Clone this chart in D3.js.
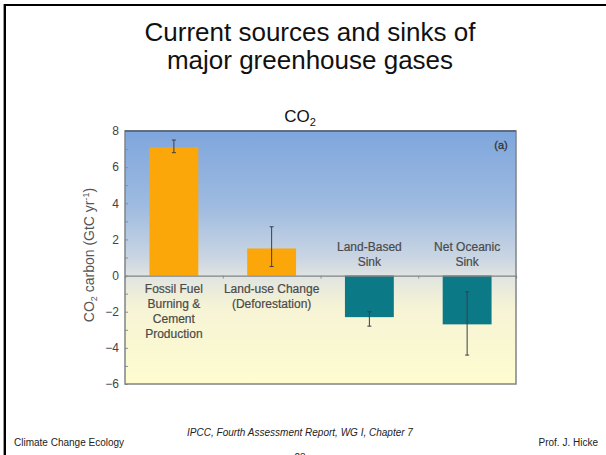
<!DOCTYPE html>
<html>
<head>
<meta charset="utf-8">
<script src="https://cdn.jsdelivr.net/npm/d3@7"></script>
<style>
  body { margin: 0; background: #fff; }
  svg { display: block; font-family: Arial, "Liberation Sans", sans-serif; }
</style>
</head>
<body>
<div class="chart"></div>
<script>
// chart values
const categories = ["fossil", "landuse", "landsink", "ocean"];
const catLabels = [
    ["Fossil Fuel", "Burning &", "Cement", "Production"],
    ["Land-use Change", "(Deforestation)"],
    ["Land-Based", "Sink"],
    ["Net Oceanic", "Sink"]
];
const values = [7.1, 1.5, -2.3, -2.7];
const errLow = [6.8, 0.5, -2.0, -0.9];
const errHigh = [7.5, 2.7, -2.8, -4.4];
const yTicks = [-6, -4, -2, 0, 2, 4, 6, 8];

const W = 606, H = 455;
let margin = {top: 131, right: 90, bottom: 71, left: 125},
    width = 516 - margin.left,
    height = 384 - margin.top;

let svg = d3.select(".chart").append("svg")
    .attr("width", W)
    .attr("height", H);

// slide frame (top and left edges only)
svg.append("rect").attr("x", 3).attr("y", 4).attr("width", 1).attr("height", H).attr("fill", "#999");
svg.append("rect").attr("x", 4).attr("y", 4).attr("width", 2).attr("height", H).attr("fill", "#000");
svg.append("rect").attr("x", 4).attr("y", 4).attr("width", W).attr("height", 2).attr("fill", "#000");

// titles
svg.append("text").attr("x", 310).attr("y", 41).attr("text-anchor", "middle")
    .attr("font-size", 26).attr("fill", "#111").text("Current sources and sinks of");
svg.append("text").attr("x", 310).attr("y", 69).attr("text-anchor", "middle")
    .attr("font-size", 26).attr("fill", "#111").text("major greenhouse gases");
let co2 = svg.append("text").attr("x", 300).attr("y", 122).attr("text-anchor", "middle")
    .attr("font-size", 17).attr("fill", "#111");
co2.append("tspan").text("CO");
co2.append("tspan").attr("font-size", 11).attr("dy", 4).text("2");

// gradient for plot background
let defs = svg.append("defs");
let grad = defs.append("linearGradient").attr("id", "bg")
    .attr("x1", 0).attr("y1", 0).attr("x2", 0).attr("y2", 1);
[["0%", "#7ea6dd"], ["30%", "#9fbbe0"], ["50%", "#c9d5e3"], ["58%", "#e2e5e0"],
 ["70%", "#f6f4d5"], ["100%", "#fefccf"]].forEach(([o, c]) => {
    grad.append("stop").attr("offset", o).attr("stop-color", c);
});

let g = svg.append("g")
    .attr("transform", "translate(" + margin.left + "," + margin.top + ")");

let x = d3.scaleBand()
    .domain(categories)
    .range([0, width])
    .paddingInner(0.5)
    .paddingOuter(0.25);

let y = d3.scaleLinear()
    .domain([-6, 8])
    .range([height, 0]);

g.append("rect")
    .attr("width", width)
    .attr("height", height)
    .attr("fill", "url(#bg)");

// bars
g.selectAll(".bar")
    .data(values)
    .enter().append("rect")
    .attr("class", "bar")
    .attr("x", (d, i) => x(categories[i]))
    .attr("width", x.bandwidth())
    .attr("y", d => y(Math.max(0, d)))
    .attr("height", d => Math.abs(y(d) - y(0)))
    .attr("fill", d => d > 0 ? "#fba609" : "#0b7a86");

// error bars
const ex = i => x(categories[i]) + x.bandwidth() / 2;
g.selectAll(".err")
    .data(values)
    .enter().append("line")
    .attr("class", "err")
    .attr("x1", (d, i) => ex(i)).attr("x2", (d, i) => ex(i))
    .attr("y1", (d, i) => y(errLow[i]))
    .attr("y2", (d, i) => y(errHigh[i]))
    .attr("stroke", "#3a3f4a")
    .attr("stroke-width", 1);
[errLow, errHigh].forEach(arr => {
    g.selectAll(null)
        .data(arr)
        .enter().append("line")
        .attr("x1", (d, i) => ex(i) - 2).attr("x2", (d, i) => ex(i) + 2)
        .attr("y1", d => y(d)).attr("y2", d => y(d))
        .attr("stroke", "#3a3f4a")
        .attr("stroke-width", 1);
});

// zero line with small category ticks
let x0 = d3.scaleLinear().domain([0, 4]).range([0, width]);
g.append("g")
    .attr("transform", "translate(0," + y(0) + ")")
    .call(d3.axisBottom(x0).tickValues([1, 2, 3]).tickSize(3).tickFormat(""))
    .call(s => s.select(".domain").attr("stroke", "#7f8488").attr("stroke-width", 1.2))
    .call(s => s.selectAll(".tick line").attr("stroke", "#8a8f94"));

// y axis: minor ticks inside, labels outside
g.append("g")
    .call(d3.axisRight(y).ticks(14).tickSize(3).tickFormat(""))
    .call(s => s.select(".domain").remove())
    .call(s => s.selectAll(".tick line").attr("stroke", "#8a8f94"));
g.append("g")
    .call(d3.axisLeft(y).tickValues(yTicks).tickSize(0).tickPadding(6))
    .call(s => s.select(".domain").remove())
    .call(s => s.selectAll("text").attr("font-size", 12).attr("fill", "#444")
        .attr("font-family", "Arial, 'Liberation Sans', sans-serif"));

// plot frame
g.append("rect")
    .attr("width", width)
    .attr("height", height)
    .attr("fill", "none")
    .attr("stroke", "#808488")
    .attr("stroke-width", 1.5);
g.append("line").attr("x1", 0).attr("x2", width).attr("y1", 0).attr("y2", 0)
    .attr("stroke", "#4f5f75").attr("stroke-width", 1.5);

// category labels
catLabels.forEach((lines, i) => {
    let above = values[i] < 0;
    let t = g.append("text")
        .attr("text-anchor", "middle")
        .attr("font-size", 12)
        .attr("fill", "#4a4a4a")
        .attr("stroke", "#4a4a4a").attr("stroke-width", 0.2);
    lines.forEach((ln, k) => {
        let yy = above ? y(0) - 10 - (lines.length - 1 - k) * 15 : y(0) + 17 + k * 15;
        t.append("tspan").attr("x", ex(i)).attr("y", yy).text(ln);
    });
});

g.append("text").attr("x", width - 15).attr("y", 18).attr("text-anchor", "middle")
    .attr("font-size", 11).attr("fill", "#333").attr("stroke", "#333").attr("stroke-width", 0.3)
    .text("(a)");

// y axis title
let yt = svg.append("text")
    .attr("transform", "translate(94,255) rotate(-90)")
    .attr("text-anchor", "middle")
    .attr("font-size", 14)
    .attr("fill", "#555");
yt.append("tspan").text("CO");
yt.append("tspan").attr("font-size", 9).attr("dy", 3).text("2");
yt.append("tspan").attr("dy", -3).text(" carbon (GtC yr");
yt.append("tspan").attr("font-size", 9).attr("dy", -5).text("-1");
yt.append("tspan").attr("dy", 5).text(")");

// footer
svg.append("text").attr("x", 14).attr("y", 446).attr("font-size", 10).attr("fill", "#222")
    .text("Climate Change Ecology");
svg.append("text").attr("x", 300).attr("y", 436).attr("text-anchor", "middle")
    .attr("font-size", 10).attr("font-style", "italic").attr("fill", "#222")
    .text("IPCC, Fourth Assessment Report, WG I, Chapter 7");
svg.append("text").attr("x", 300).attr("y", 461).attr("text-anchor", "middle")
    .attr("font-size", 10).attr("fill", "#222").text("23");
svg.append("text").attr("x", 598).attr("y", 446).attr("text-anchor", "end")
    .attr("font-size", 10).attr("fill", "#222").text("Prof. J. Hicke");
</script>
</body>
</html>
